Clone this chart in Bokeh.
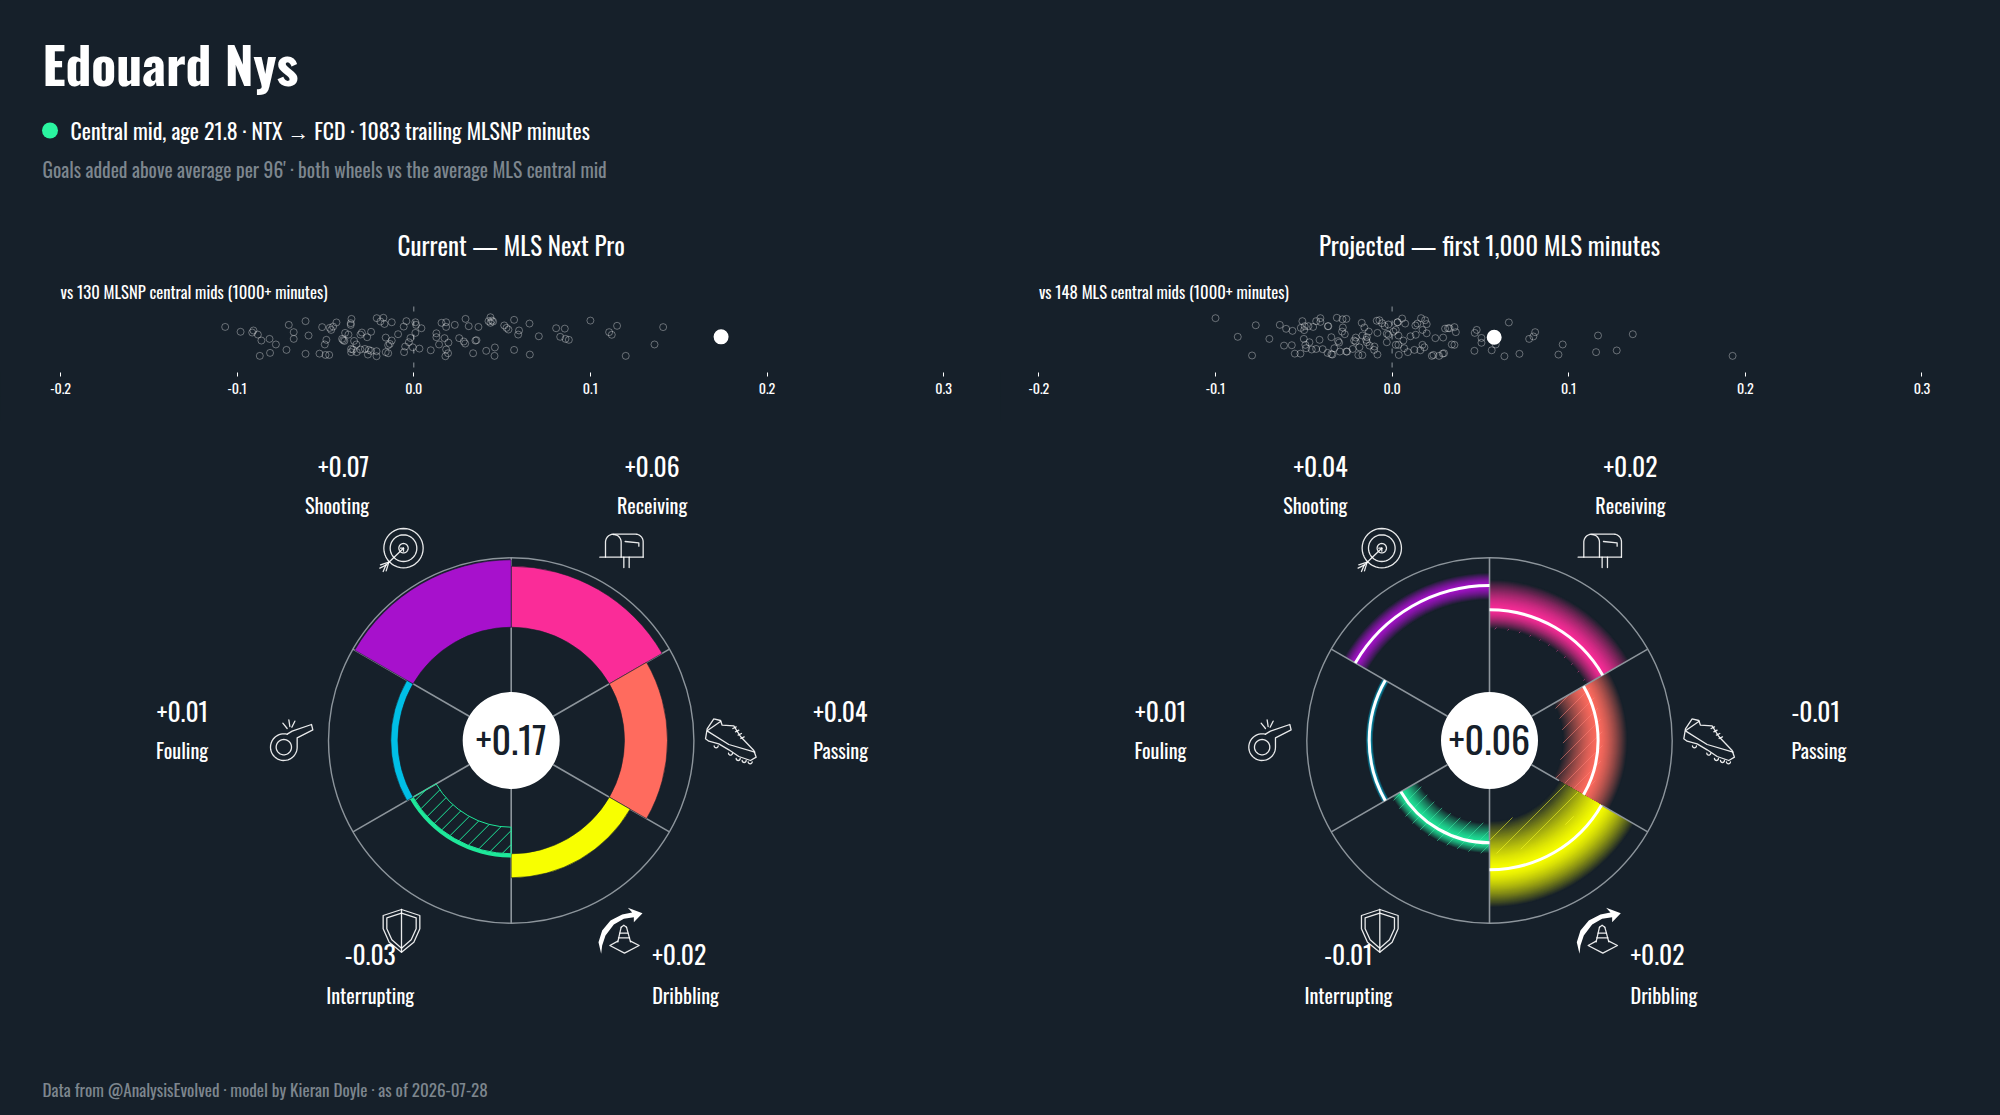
import math
import numpy as np
from bokeh.plotting import figure
from bokeh.layouts import column, row
from bokeh.models import FixedTicker, NumeralTickFormatter, Range1d, LinearAxis
from bokeh.core.properties import value
from bokeh.embed import file_html
from bokeh.resources import INLINE

BG = "#16202a"
FONT = "Oswald"
GRID = "#8d959c"

title_text = "Edouard Nys"
subtitle_text = "Central mid, age 21.8 · NTX → FCD · 1083 trailing MLSNP minutes"
note_text = "Goals added above average per 96' · both wheels vs the average MLS central mid"
footer_text = "Data from @AnalysisEvolved · model by Kieran Doyle · as of 2026-07-28"
panel_titles = ["Current — MLS Next Pro", "Projected — first 1,000 MLS minutes"]
strip_notes = ["vs 130 MLSNP central mids (1000+ minutes)", "vs 148 MLS central mids (1000+ minutes)"]
x_ticks = [-0.2, -0.1, 0.0, 0.1, 0.2, 0.3]

categories = ["Receiving", "Passing", "Dribbling", "Interrupting", "Fouling", "Shooting"]
colors = ["#fa2c98", "#ff6b5e", "#f8ff00", "#1ee89a", "#00bfe6", "#a711cc"]

current_values = [0.061, 0.043, 0.024, -0.0266, 0.0071, 0.0674]
current_labels = ["+0.06", "+0.04", "+0.02", "-0.03", "+0.01", "+0.07"]
current_total = "+0.17"

projected_mid = [0.0174, -0.0047, 0.016, -0.011, 0.007, 0.0417]
projected_lo = [-0.002, -0.040, -0.033, -0.031, 0.0024, 0.027]
projected_hi = [0.048, 0.025, 0.054, 0.0, 0.0113, 0.055]
projected_labels = ["+0.02", "-0.01", "+0.02", "-0.01", "+0.01", "+0.04"]
projected_total = "+0.06"

player_current = (0.174, 0.02)
player_projected = (0.0578, 0.0)

peers_current_x = [
    -.1068,-.0981,-.0915,-.0908,-.0883,-.0863,-.0817,-.0781,-.0872,-.0814,-.0721,-.0708,-.0613,-.0680,-.0680,-.0596,-.0613,-.0534,-.0500,-.0479,
    -.0519,-.0476,-.0457,-.0468,-.0438,-.0495,-.0504,-.0353,-.0357,-.0357,-.0389,-.0370,-.0406,-.0400,-.0393,-.0338,-.0325,-.0294,-.0302,-.0242,
    -.0264,-.0355,-.0344,-.0355,-.0323,-.0302,-.0277,-.0255,-.0242,-.0260,-.0211,-.0211,-.0159,-.0145,-.0210,-.0172,-.0189,-.0166,-.0125,-.0159,
    -.0125,-.0136,-.0145,-.0089,-.0057,-.0042,.0009,.0013,.0043,.0009,-.0019,-.0028,-.0049,-.0055,-.0006,.0032,.0096,.0128,.0128,.0143,
    .0157,.0183,.0183,.0232,.0174,.0196,.0183,.0194,.0179,.0336,.0257,.0283,.0291,.0293,.0311,.0349,.0355,.0366,.0410,.0459,
    .0457,.0423,.0434,.0442,.0449,.0434,.0512,.0525,.0536,.0596,.0591,.0568,.0655,.0568,.0657,.0708,.0806,.0855,.0829,.0859,
    .0878,.1000,.1106,.1121,.1151,.1200,.1363,.1412,
]
peers_current_y = [
    .55,.29,.25,.36,.14,-.18,-.09,-.39,-1.0,-.84,-.68,.66,.86,.27,-.09,.09,-.89,-.88,-.95,-.95,
    .54,.5,.57,.39,.79,-.14,-.39,.98,.75,.66,.23,.14,-.09,-.16,-.2,-.2,-.39,.25,.14,.29,
    0,-.63,-.66,-.8,-.8,-.66,-.63,-.68,-.73,-.93,-.75,-1.02,-.8,-.86,1.02,1.04,.84,.71,.8,-.02,
    -.18,-.36,-.43,.16,.57,.86,.8,.66,.48,.23,-.04,-.27,-.5,-.8,-.54,-.61,-.7,.21,0,-.39,
    .77,.8,.55,.66,-.05,-.29,-.66,-.86,-1.02,-.86,-.05,-.23,-.34,.98,.59,-.18,-.16,.55,-.73,-.55,
    -1.0,.86,1.07,.89,.84,.77,.63,.5,.41,.36,.14,.93,.73,-.68,-.93,.05,.48,.46,.02,-.09,
    -.14,.89,.27,.13,.61,-1.0,-.39,.54,
]
peers_projected_x = [
    -.1000,-.0772,-.0874,-.0695,-.0793,-.0636,-.0600,-.0564,-.0612,-.0568,-.0508,-.0517,-.0495,-.0474,-.0447,-.0430,-.0406,-.0406,-.0364,-.0361,
    -.0498,-.0500,-.0411,-.0468,-.0491,-.0487,-.0455,-.0430,-.0393,-.0366,-.0344,-.0338,-.0327,-.0344,-.0306,-.0300,-.0296,-.0259,-.0255,-.0551,
    -.0519,-.0313,-.0281,-.0259,-.0172,-.0157,-.0279,-.0283,-.0268,-.0132,-.0083,-.0168,-.0206,-.0215,-.0206,-.0143,-.0147,-.0143,-.0223,-.0185,
    -.0191,-.0168,-.0128,-.0100,-.0102,-.0083,-.0087,-.0072,-.0057,-.0042,-.0021,-.0030,-.0021,.0008,.0021,-.0030,.0021,.0036,.0036,.0064,
    .0032,.0030,.0057,.0074,.0038,.0068,.0089,.0126,.0160,.0172,.0183,.0132,.0143,.0164,.0187,.0196,.0172,.0196,.0134,.0104,
    .0245,.0289,.0300,.0317,.0325,.0353,.0361,.0338,.0353,.0225,.0234,.0266,.0287,.0294,.0466,.0468,.0479,.0506,.0506,.0564,
    .0587,.0661,.0636,.0721,.0776,.0800,.0810,.0942,.0966,.1155,.1166,.1272,.1363,.1928,
]
peers_projected_y = [
    1.02,.64,.02,-.09,-.98,.66,.45,.34,-.45,-.43,.86,.5,.59,.59,.55,.86,1.02,.82,.59,.59,
    .38,-.09,-.14,-.27,-.41,-.59,-.66,-.63,-.64,-.84,-.91,-.93,-.59,0,-.21,-.29,-.77,-.77,-.77,-.88,
    -.88,1.04,.96,.98,.77,.52,.52,.3,.16,.3,.23,.09,-.02,-.18,-.23,0,-.14,-.27,-.63,-.54,
    -.96,-.96,-.45,-.5,-.68,-.93,.88,.91,.75,.59,.68,.18,.13,.3,.39,-.27,-.41,-.41,.09,-.18,
    .8,.8,1.0,.73,-.95,-.59,-.8,-.68,-.7,-.41,-.54,.63,.73,1.02,.91,.7,.39,.21,.13,.05,
    -.05,-.02,.46,.48,.48,.54,.27,-.39,-.41,-1.0,-.95,-1.0,-.88,-.86,-.73,.23,.39,-.04,-.3,-.7,
    -.39,.79,-1.02,-.89,-.09,.04,.27,-.93,-.39,-.8,.09,-.71,.16,-1.0,
]

# ---------- page geometry (reference pixels) ----------
PAGE_L, PAGE_R, PAGE_T, PAGE_B = 0, 2000, 0, 1115
MID_X = 1000
HEAD_B, STRIP_B, WHEEL_B = 215, 420, 1040
FRAME_B = 372
STRIP_Y0, STRIP_UNIT = 336.7, 18.67
STRIP_SCALE = 1766.0
ZERO_X = [413.3, 1391.6]
WHEEL_CX = [510.7, 1489.0]
WHEEL_CY = 740.0
BASE_R, HUB_R, OUTER_R = 0.1133, 0.0485, 0.1827
PAGE_STYLE = {"background-color": BG}


def base_fig(w, h, xr, yr, border_bottom=0):
    p = figure(width=w, height=h, x_range=Range1d(*xr), y_range=Range1d(*yr),
               output_backend="svg", toolbar_location=None,
               min_border=0, min_border_bottom=border_bottom,
               background_fill_color=BG, border_fill_color=BG,
               outline_line_color=BG, x_axis_location=None, y_axis_location=None,
               styles=PAGE_STYLE)
    p.xgrid.visible = False
    p.ygrid.visible = False
    return p


def put_text(p, x, y, txt, size, color="#ffffff", align="left", style="normal", base="middle", font=FONT):
    p.text([x], [y], text=[txt], text_font=value(font), text_font_size=value(f"{size}px"),
           text_color=color, text_align=align, text_baseline=base, text_font_style=style)


def blend(c, t):
    a = [int(c[i:i + 2], 16) for i in (1, 3, 5)]
    b = [int(BG[i:i + 2], 16) for i in (1, 3, 5)]
    return "#%02x%02x%02x" % tuple(int(round(b[k] + (a[k] - b[k]) * t)) for k in range(3))


def lighten(c, t):
    a = [int(c[i:i + 2], 16) for i in (1, 3, 5)]
    return "#%02x%02x%02x" % tuple(int(round(v + (255 - v) * t)) for v in a)


def sector(i):
    return math.radians(90 - 60 * (i + 1)), math.radians(90 - 60 * i)


def hatch_segments(r0, r1, a0, a1, spacing):
    xs, ys = [], []
    if r1 <= r0:
        return xs, ys
    t = np.arange(-0.2, 0.2, 0.0002)
    for c in np.arange(-0.3, 0.3, spacing):
        lx, ly = t, t + c
        rr = np.hypot(lx, ly)
        aa = np.arctan2(ly, lx)
        aa = np.where(aa < a0, aa + 2 * np.pi, aa)
        ok = (rr >= r0) & (rr <= r1) & (aa <= a1)
        idx = np.where(ok)[0]
        if len(idx) < 2:
            continue
        for g in np.split(idx, np.where(np.diff(idx) > 1)[0] + 1):
            if len(g) > 1:
                xs.append(lx[[g[0], g[-1]]].tolist())
                ys.append(ly[[g[0], g[-1]]].tolist())
    return xs, ys


# ---------- icons: outlines drawn relative to the wheel centre ----------
def zpts(x0, y0, pts):
    return [((x0 + a / 3 - WHEEL_CX[0]) / 1000, (WHEEL_CY - (y0 + b / 3)) / 1000) for a, b in pts]


def arc(cx, cy, r, a0, a1, n=40):
    return [(cx + r * math.cos(math.radians(a0 + (a1 - a0) * k / n)),
             cy + r * math.sin(math.radians(a0 + (a1 - a0) * k / n))) for k in range(n + 1)]


ICON_LINES = []
for pts in [
    arc(99, 98, 59, 0, 360), arc(99, 98, 40, 0, 360), arc(99, 98, 14, 0, 360),
    [(99, 98), (45, 150)], [(99, 98), (90, 98)], [(99, 98), (99, 107)],
    [(55, 140), (30, 148)], [(55, 140), (47, 166)], [(46, 149), (28, 158)], [(46, 149), (38, 168)],
]:
    ICON_LINES.append(zpts(370, 515, pts))
for pts in [
    [(688, 125), (818, 125)],
    [(705, 125), (705, 82)] + arc(729, 80, 24, 180, 270, 12) + [(795, 56)] + arc(795, 79, 23, 270, 360, 12) + [(818, 125)],
    [(752, 125), (752, 80)] + arc(729, 80, 23, 0, -90, 12),
    [(764, 78), (805, 82), (805, 92)], [(760, 125), (760, 156)], [(776, 125), (776, 156)],
]:
    ICON_LINES.append(zpts(370, 515, pts))
for pts in [
    arc(85, 140, 40, -75, -360) + [(125, 112), (172, 88), (168, 72), (110, 92), (95, 101)],
    arc(85, 140, 23, 0, 360), [(82, 68), (95, 84)], [(100, 58), (103, 78)], [(118, 62), (109, 80)],
]:
    ICON_LINES.append(zpts(255, 700, pts))
for pts in [
    [(55, 55), (75, 60), (80, 74), (115, 76), (135, 108), (175, 150), (182, 170), (165, 180),
     (130, 168), (100, 148), (70, 130), (40, 122), (30, 115), (35, 85), (55, 55)],
    [(36, 90), (76, 62)], [(36, 92), (100, 132), (178, 155)],
    [(112, 84), (122, 79)], [(120, 94), (130, 89)], [(128, 104), (138, 99)], [(136, 114), (146, 109)],
    arc(62, 136, 6, 0, 180, 8), arc(105, 158, 6, 0, 180, 8), arc(128, 174, 6, 0, 180, 8),
    arc(146, 180, 6, 0, 180, 8), arc(164, 184, 6, 0, 180, 8),
]:
    ICON_LINES.append(zpts(695, 700, pts))
for pts in [
    [(93, 27), (148, 45), (148, 85), (130, 125), (93, 155), (56, 125), (38, 85), (38, 45), (93, 27)],
    [(93, 38), (137, 52), (137, 85), (122, 118), (93, 143), (64, 118), (49, 85), (49, 52), (93, 38)],
    [(93, 27), (93, 155)],
    [(752, 80), (742, 124)], [(768, 80), (780, 124)], [(752, 80), (760, 74), (768, 80)],
    [(748, 98), (772, 98)], [(744, 112), (777, 112)],
    [(742, 122), (718, 135), (762, 158), (806, 135), (780, 122)],
]:
    ICON_LINES.append(zpts(370, 900, pts))
ARROW = zpts(370, 900, [(692, 160), (684, 125), (695, 90), (720, 60), (755, 42), (785, 36), (772, 22), (816, 38),
                        (790, 65), (790, 50), (760, 55), (730, 72), (705, 105), (695, 135)])


def draw_icons(p):
    p.multi_line([[q[0] for q in l] for l in ICON_LINES], [[q[1] for q in l] for l in ICON_LINES],
                 line_color="#ffffff", line_width=1.3, line_alpha=0.9, line_join="round", line_cap="round")
    p.patch([q[0] for q in ARROW], [q[1] for q in ARROW], fill_color="#ffffff", line_color=BG, line_alpha=0)


LABEL_POS = [  # anchor x offset, alignment, y of value, y of name (wheel units)
    (0.141, "center", 0.274, 0.236),
    (0.302, "left", 0.029, -0.009),
    (0.141, "left", -0.214, -0.254),
    (-0.141, "center", -0.214, -0.254),
    (-0.303, "right", 0.029, -0.009),
    (-0.142, "right", 0.274, 0.236),
]


def draw_labels(p, labels, total):
    for i, (xo, al, yv, yn) in enumerate(LABEL_POS):
        put_text(p, xo, yv, labels[i], 25.5, align=al)
        put_text(p, xo, yn, categories[i], 20.2, align=al)
    p.circle([0], [0], radius=HUB_R, fill_color="#ffffff", line_color="#ffffff", line_alpha=0)
    put_text(p, 0, 0.001, total, 38, color=BG, align="center")


def spokes(p, gaps=None):
    gaps = gaps or {}
    xs, ys = [], []
    for k in range(6):
        th = math.radians(90 - 60 * k)
        parts = [(HUB_R, OUTER_R)]
        if k in gaps:
            parts = [(HUB_R, gaps[k][0]), (gaps[k][1], OUTER_R)]
        for a, b in parts:
            xs.append([a * math.cos(th), b * math.cos(th)])
            ys.append([a * math.sin(th), b * math.sin(th)])
    p.multi_line(xs, ys, line_color=GRID, line_width=1.6)


def wheel_fig(side):
    x0 = MID_X if side else PAGE_L
    x1 = PAGE_R if side else MID_X
    cx = WHEEL_CX[side]
    p = base_fig(x1 - x0, WHEEL_B - STRIP_B,
                 ((x0 - cx) / 1000, (x1 - cx) / 1000),
                 ((WHEEL_CY - WHEEL_B) / 1000, (WHEEL_CY - STRIP_B) / 1000))
    p.circle([0], [0], radius=OUTER_R, fill_color=None, line_color=GRID, line_width=1.4)
    return p


def strip_fig(side, px, py, player):
    x0 = MID_X if side else PAGE_L
    x1 = PAGE_R if side else MID_X
    z = ZERO_X[side]
    p = base_fig(x1 - x0, STRIP_B - HEAD_B,
                 ((x0 - z) / STRIP_SCALE, (x1 - z) / STRIP_SCALE),
                 ((STRIP_Y0 - FRAME_B) / STRIP_UNIT, (STRIP_Y0 - HEAD_B) / STRIP_UNIT),
                 border_bottom=STRIP_B - FRAME_B)
    ax = LinearAxis(ticker=FixedTicker(ticks=x_ticks), formatter=NumeralTickFormatter(format="0.0"))
    ax.axis_line_color = BG
    ax.major_tick_line_color = "#ffffff"
    ax.major_tick_in = 0
    ax.major_tick_out = 4
    ax.minor_tick_line_color = BG
    ax.minor_tick_out = 0
    ax.background_fill_color = BG
    ax.major_label_text_color = "#ffffff"
    ax.major_label_text_font = FONT
    ax.major_label_text_font_size = "14px"
    ax.major_label_standoff = 6
    p.add_layout(ax, "below")
    p.segment([0], [(STRIP_Y0 - 367) / STRIP_UNIT], [0], [(STRIP_Y0 - 305) / STRIP_UNIT],
              line_color=GRID, line_width=1, line_dash="5 9")
    p.scatter(px, py, size=7, marker="circle", fill_color=None, line_color="#ffffff", line_alpha=0.35, line_width=1)
    p.scatter([player[0]], [player[1]], size=15, marker="circle", fill_color="#ffffff", line_color="#ffffff", line_alpha=0)
    cx = (WHEEL_CX[side] - z) / STRIP_SCALE
    put_text(p, cx, (STRIP_Y0 - 243.5) / STRIP_UNIT, panel_titles[side], 25, align="center")
    put_text(p, x_ticks[0], (STRIP_Y0 - 290.5) / STRIP_UNIT, strip_notes[side], 16.6)
    return p


# ---------- header / footer ----------
header = base_fig(PAGE_R - PAGE_L, HEAD_B - PAGE_T, (PAGE_L, PAGE_R), (HEAD_B, PAGE_T))
put_text(header, 42, 62.5, title_text, 51.5, style="bold")
header.scatter([49.5], [130], size=16, marker="circle", fill_color="#2af5a0", line_color="#2af5a0", line_alpha=0)
put_text(header, 70, 129, subtitle_text, 21.8)
put_text(header, 42, 168.5, note_text, 19.5, color="#7d868e")

footer = base_fig(PAGE_R - PAGE_L, PAGE_B - WHEEL_B, (PAGE_L, PAGE_R), (PAGE_B, WHEEL_B))
put_text(footer, 42, 1089, footer_text, 17.1, color="#7d868e")

strip_left = strip_fig(0, peers_current_x, peers_current_y, player_current)
strip_right = strip_fig(1, peers_projected_x, peers_projected_y, player_projected)

# ---------- current wheel ----------
wl = wheel_fig(0)
spokes(wl)
for i, v in enumerate(current_values):
    a0, a1 = sector(i)
    if v >= 0:
        wl.annular_wedge([0], [0], inner_radius=BASE_R, outer_radius=BASE_R + v, start_angle=a0, end_angle=a1,
                         fill_color=colors[i], line_color=BG, line_width=0.6)
    else:
        xs, ys = hatch_segments(BASE_R + v, BASE_R, a0, a1, 0.014)
        wl.multi_line(xs, ys, line_color=colors[i], line_width=1)
        wl.annular_wedge([0], [0], inner_radius=BASE_R + v, outer_radius=BASE_R, start_angle=a0, end_angle=a1,
                         fill_color=None, line_color=colors[i], line_width=1)
        wl.annular_wedge([0], [0], inner_radius=BASE_R, outer_radius=BASE_R + 0.0037, start_angle=a0, end_angle=a1,
                         fill_color=colors[i], line_color=colors[i], line_alpha=0)
draw_icons(wl)
draw_labels(wl, current_labels, current_total)

# ---------- projected wheel ----------
wr = wheel_fig(1)
ring_i, ring_o, ring_a, ring_b, ring_c = [], [], [], [], []
for i, c in enumerate(colors):
    a0, a1 = sector(i)
    lo, mid, hi = BASE_R + projected_lo[i], BASE_R + projected_mid[i], BASE_R + projected_hi[i]
    # each band is painted from its edges in towards the centre line, so no seams show
    for r in np.arange(lo, mid, 0.001):
        t = min(1.0, max(0.0, (mid - r) / (mid - lo)))
        ring_i.append(float(min(r, mid)))
        ring_o.append(float(mid))
        ring_a.append(a0)
        ring_b.append(a1)
        ring_c.append(blend(c, 1 - t ** 1.5))
    for r in np.arange(hi, mid, -0.001):
        t = min(1.0, max(0.0, (r - mid) / (hi - mid)))
        ring_i.append(float(mid))
        ring_o.append(float(max(r, mid)))
        ring_a.append(a0)
        ring_b.append(a1)
        ring_c.append(blend(c, 1 - t ** 1.5))
wr.annular_wedge(x=[0] * len(ring_i), y=[0] * len(ring_i), inner_radius=ring_i, outer_radius=ring_o,
                 start_angle=ring_a, end_angle=ring_b, fill_color=ring_c, line_color=ring_c, line_alpha=0)
hatch_space = [0.014, 0.014, 0.02, 0.014, 0.014, 0.014]
for i, c in enumerate(colors):
    a0, a1 = sector(i)
    lo, hi = BASE_R + projected_lo[i], BASE_R + min(projected_hi[i], 0)
    xs, ys = hatch_segments(lo, hi, a0, a1, hatch_space[i])
    if xs:
        wr.multi_line(xs, ys, line_color=lighten(c, 0.15), line_width=1, line_alpha=0.55)
spokes(wr, gaps={2: (BASE_R + projected_lo[2], BASE_R + projected_mid[2])})
for i in range(6):
    a0, a1 = sector(i)
    wr.arc([0], [0], radius=BASE_R + projected_mid[i], start_angle=a0, end_angle=a1,
           line_color="#ffffff", line_width=3)
draw_icons(wr)
draw_labels(wr, projected_labels, projected_total)

page = column(header, row(strip_left, strip_right, styles=PAGE_STYLE), row(wl, wr, styles=PAGE_STYLE), footer,
              spacing=0, styles=PAGE_STYLE)
open("out.html", "w").write(file_html(page, INLINE))
